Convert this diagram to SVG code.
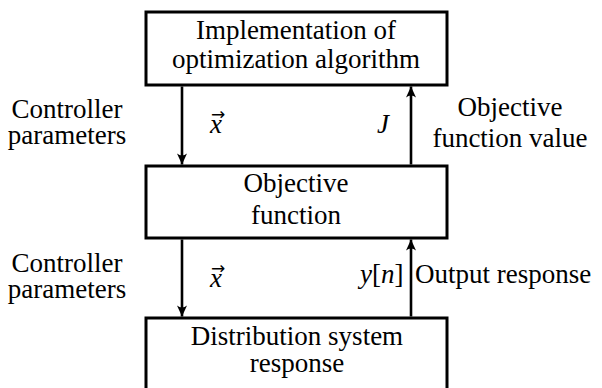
<svg xmlns="http://www.w3.org/2000/svg" width="602" height="388" viewBox="0 0 602 388">
<style>
.box{fill:#fff;stroke:#000;stroke-width:3}
text{font-size:27px;fill:#000}
.m{text-anchor:middle}
.i{font-style:italic}
.v{font-size:17px}
.c{stroke:#000;stroke-width:2.6;fill:none;marker-end:url(#ah)}
</style>
<defs>
<marker id="ah" markerUnits="userSpaceOnUse" markerWidth="14" markerHeight="12" viewBox="-12 -6 14 12" refX="0" refY="0" orient="auto">
<path d="M0,0 L-11,-5 Q-7,0 -11,5 Z" fill="#000"/>
</marker>
</defs>
<g id="node-impl" font-family="Liberation Serif, serif">
<rect class="box" x="146" y="12" width="301" height="73"/>
<text class="m" x="296" y="39">Implementation of</text>
<text class="m" x="296" y="68">optimization algorithm</text>
</g>
<g id="node-objective" font-family="Liberation Serif, serif">
<rect class="box" x="146" y="166" width="301" height="72"/>
<text class="m" x="296" y="192">Objective</text>
<text class="m" x="296" y="224">function</text>
</g>
<g id="node-distribution" font-family="Liberation Serif, serif">
<rect class="box" x="146" y="318" width="301" height="90"/>
<text class="m" x="297" y="345">Distribution system</text>
<text class="m" x="297" y="372">response</text>
</g>
<g id="connectors">
<path class="c" d="M182,86.5 L182,164.5"/>
<path class="c" d="M411,164.5 L411,86.5"/>
<path class="c" d="M182,239.5 L182,316.5"/>
<path class="c" d="M411,316.5 L411,239.5"/>
</g>
<g id="labels" font-family="Liberation Serif, serif">
<text class="m" x="67" y="118">Controller</text>
<text class="m" x="67" y="144">parameters</text>
<text class="m" x="510" y="116">Objective</text>
<text class="m" x="510" y="147">function value</text>
<text class="m" x="67" y="272">Controller</text>
<text class="m" x="67" y="298">parameters</text>
<text x="415" y="283">Output response</text>
<text class="i" x="210" y="133">x</text>
<text class="v" x="211" y="120" font-family="DejaVu Sans, sans-serif">→</text>
<text class="i" x="377" y="133">J</text>
<text class="i" x="210" y="287">x</text>
<text class="v" x="211" y="274" font-family="DejaVu Sans, sans-serif">→</text>
<text x="360" y="283"><tspan class="i">y</tspan>[<tspan class="i">n</tspan>]</text>
</g>
</svg>
